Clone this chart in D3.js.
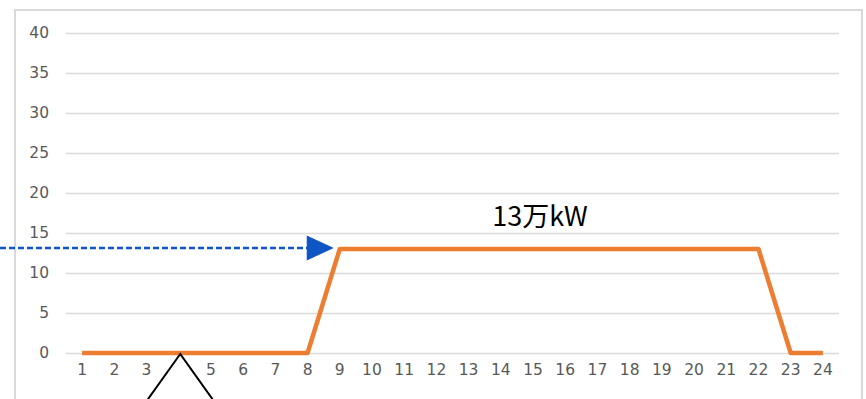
<!DOCTYPE html>
<html><head><meta charset="utf-8">
<script src="https://cdn.jsdelivr.net/npm/d3@7"></script>
<style>html,body{margin:0;padding:0;background:#fff;overflow:hidden}</style>
</head><body>
<svg id="chart" width="866" height="399"></svg>
<script>
const hours = ["1","2","3","4","5","6","7","8","9","10","11","12","13","14","15","16","17","18","19","20","21","22","23","24"];
const output = [0,0,0,0,0,0,0,0,13,13,13,13,13,13,13,13,13,13,13,13,13,13,0,0];
const yTicks = [0,5,10,15,20,25,30,35,40];
const annotationText = "13万kW";
const annotationValue = 13;

(function () {
const svg = d3.select("#chart");
const W = 866, H = 399;
const mLeft = 66, mRight = 839, mTop = 33, mBottom = 353;
const tickFont = "'DejaVu Sans', sans-serif";

svg.append("rect").attr("x", 0).attr("y", 0).attr("width", W).attr("height", H).attr("fill", "#fff");
// outer border
svg.append("rect").attr("x", 15).attr("y", 10).attr("width", 847).attr("height", 420)
  .attr("fill", "none").attr("stroke", "#d9d9d9").attr("stroke-width", 2);

const x = d3.scaleBand().domain(hours).range([mLeft, mRight]);
const y = d3.scaleLinear().domain([0, 40]).range([mBottom, mTop]);

// gridlines
const yAxis = d3.axisLeft(y).tickValues(yTicks).tickSize(-(mRight - mLeft)).tickPadding(17);
const gy = svg.append("g").attr("transform", `translate(${mLeft},0)`).call(yAxis);
gy.select(".domain").remove();
gy.selectAll(".tick line").attr("stroke", "#d9d9d9").attr("stroke-width", 1.6);
gy.selectAll(".tick text").attr("fill", "#595959").style("font-family", tickFont).style("font-size", "15.5px");

const xAxis = d3.axisBottom(x).tickSize(0).tickPadding(11);
const gx = svg.append("g").attr("transform", `translate(0,${mBottom})`).call(xAxis);
gx.select(".domain").remove();
gx.selectAll(".tick text").attr("fill", "#595959").style("font-family", tickFont).style("font-size", "15.5px");

// line
const line = d3.line().x((d, i) => x(hours[i]) + x.bandwidth() / 2).y(d => y(d));
svg.append("path").datum(output).attr("d", line).attr("fill", "none")
  .attr("stroke", "#ed7d31").attr("stroke-width", 4.5).attr("stroke-linejoin", "round");

// annotation text
svg.append("text").attr("x", x("15") + x.bandwidth() / 2 + 7).attr("y", y(annotationValue) - 23)
  .attr("text-anchor", "middle").style("font-family", "'Noto Sans CJK JP', sans-serif")
  .style("font-size", "27px").attr("fill", "#000").text(annotationText);

// dashed arrow
const ay = y(annotationValue) - 1;
const tipX = x("9") + x.bandwidth() / 2 - 6;
svg.append("line").attr("x1", 0).attr("x2", tipX - 25).attr("y1", ay).attr("y2", ay)
  .attr("stroke", "#0f56c5").attr("stroke-width", 2.5).attr("stroke-dasharray", "6,3");
svg.append("path").attr("d", `M${tipX},${ay} L${tipX - 27},${ay - 12.5} L${tipX - 27},${ay + 12.5} Z`)
  .attr("fill", "#0f56c5");

// black triangle marker
const ax = x("4") + x.bandwidth() / 2 + 1.5;
svg.append("path").attr("d", `M${ax},${mBottom + 1} L${ax - 35},${mBottom + 50} L${ax + 35},${mBottom + 50} Z`)
  .attr("fill", "#fff").attr("stroke", "#000").attr("stroke-width", 2);
})();
</script>
</body></html>
